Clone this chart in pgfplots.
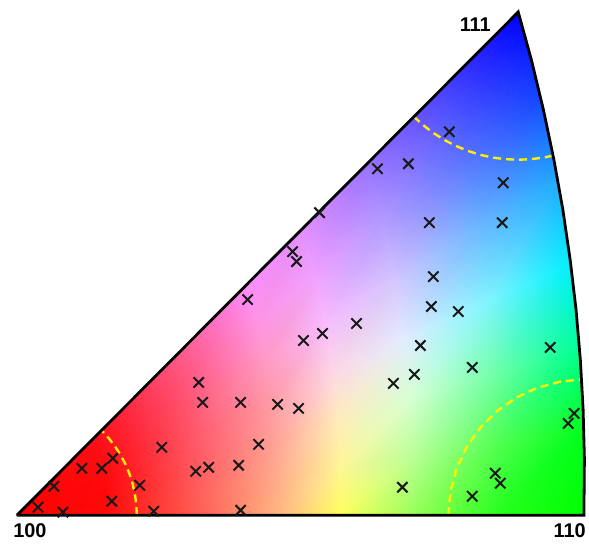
\documentclass[border=0pt]{standalone}
\usepackage{pgfplots}
\pgfplotsset{compat=1.18}
\usepackage{fontspec}
\setmainfont{Liberation Sans}
\definecolor{dashy}{RGB}{255,238,0}
\definecolor{crossc}{RGB}{25,25,25}
\begin{document}
\begin{tikzpicture}
\begin{axis}[
  width=589bp, height=544bp, scale only axis,
  xmin=0, xmax=589, ymin=0, ymax=544, y dir=reverse,
  hide axis, clip=false,
]
\path (rel axis cs:0,0) rectangle (rel axis cs:1,1);
% colour key (patch mesh, vertex colours)
\addplot[patch, shader=interp, mesh/color input=explicit,
  table/row sep=\\,
  patch table={
0 1 2\\ 0 2 3\\ 0 3 4\\ 0 4 5\\ 0 5 6\\ 0 6 7\\
1 8 9\\ 1 9 2\\ 2 9 10\\ 2 10 3\\ 3 10 11\\ 3 11 4\\ 4 11 12\\ 4 12 5\\ 5 12 13\\ 5 13 6\\ 6 13 14\\ 6 14 7\\
8 15 16\\ 8 16 9\\ 9 16 17\\ 9 17 10\\ 10 17 18\\ 10 18 11\\ 11 18 19\\ 11 19 12\\ 12 19 20\\ 12 20 13\\ 13 20 21\\ 13 21 14\\
15 22 23\\ 15 23 16\\ 16 23 24\\ 16 24 17\\ 17 24 25\\ 17 25 18\\ 18 25 26\\ 18 26 19\\ 19 26 27\\ 19 27 20\\ 20 27 28\\ 20 28 21\\
22 29 30\\ 22 30 23\\ 23 30 31\\ 23 31 24\\ 24 31 32\\ 24 32 25\\ 25 32 33\\ 25 33 26\\ 26 33 34\\ 26 34 27\\ 27 34 35\\ 27 35 28\\
29 36 37\\ 29 37 30\\ 30 37 38\\ 30 38 31\\ 31 38 39\\ 31 39 32\\ 32 39 40\\ 32 40 33\\ 33 40 41\\ 33 41 34\\ 34 41 42\\ 34 42 35\\
36 43 44\\ 36 44 37\\ 37 44 45\\ 37 45 38\\ 38 45 46\\ 38 46 39\\ 39 46 47\\ 39 47 40\\ 40 47 48\\ 40 48 41\\ 41 48 49\\ 41 49 42\\
  },
] table[x=x, y=y, meta=c] {
x y c\\
17 516 rgb255=255,0,0\\
107.8 516 rgb255=255,12,8\\
107.8 502.6 rgb255=255,10,10\\
107.1 489.1 rgb255=255,10,12\\
105.7 475.7 rgb255=255,10,14\\
103.6 462.2 rgb255=255,12,18\\
100.8 448.8 rgb255=255,14,22\\
97.3 435.4 rgb255=255,16,26\\
198.7 516 rgb255=255,95,82\\
198.6 489.1 rgb255=255,94,92\\
197.2 462.2 rgb255=255,90,98\\
194.4 435.4 rgb255=255,88,105\\
190.2 408.5 rgb255=255,86,112\\
184.6 381.6 rgb255=255,85,122\\
177.6 354.7 rgb255=255,88,135\\
278.2 516 rgb255=255,182,128\\
278.1 477.4 rgb255=255,172,140\\
276.0 438.7 rgb255=255,162,152\\
272.0 400.1 rgb255=255,155,168\\
266.0 361.4 rgb255=255,155,196\\
258.0 322.8 rgb255=255,148,228\\
247.9 284.2 rgb255=255,140,252\\
340.6 516 rgb255=255,255,95\\
340.5 468.1 rgb255=255,246,150\\
338.0 420.2 rgb255=255,236,186\\
333.0 372.4 rgb255=253,215,230\\
325.5 324.5 rgb255=248,188,254\\
315.6 276.6 rgb255=240,162,255\\
303.1 228.7 rgb255=225,142,255\\
414.5 516 rgb255=150,255,88\\
414.3 457.2 rgb255=185,255,150\\
411.2 398.4 rgb255=215,255,212\\
405.0 339.6 rgb255=226,236,255\\
395.9 280.8 rgb255=212,198,255\\
383.7 222 rgb255=178,155,255\\
368.4 163.2 rgb255=150,112,255\\
499.6 516 rgb255=40,255,30\\
499.4 444.6 rgb255=80,255,80\\
495.6 373.2 rgb255=112,255,170\\
488.2 301.8 rgb255=128,245,255\\
477.1 230.4 rgb255=110,185,255\\
462.2 159 rgb255=90,115,255\\
443.7 87.6 rgb255=72,64,255\\
584.8 516 rgb255=0,255,0\\
584.55 432 rgb255=0,255,30\\
580.1 348 rgb255=0,255,150\\
571.35 264 rgb255=0,240,255\\
558.3 180 rgb255=30,170,255\\
540.8 96 rgb255=20,70,255\\
519 12 rgb255=0,0,255\\
};
% yellow dashed circles
\addplot[dashy, line width=2.4bp, dash pattern=on 8bp off 5bp, no markers] coordinates {
(137,516) (136.5,505.5) (135.2,495.2) (132.9,484.9) (129.8,475.0) (125.8,465.3) (120.9,456.0) (115.3,447.2) (108.9,438.9) (101.9,431.1)};
\addplot[dashy, line width=2.4bp, dash pattern=on 8bp off 5bp, no markers] coordinates {
(449,516) (451.1,492.4) (457.2,469.5) (467.2,448.0) (480.8,428.6) (497.6,411.8) (517,398.2) (538.5,388.2) (561.4,382.1) (582.5,380.1)};
\addplot[dashy, line width=2.4bp, dash pattern=on 8bp off 5bp, no markers] coordinates {
(414.3,116.7) (423.9,125.4) (434.1,133.2) (445,140.2) (456.5,146.1) (468.4,151.1) (480.7,155) (493.3,157.8) (506.1,159.4) (519,160) (531.9,159.4) (544.7,157.8) (554.8,155.6)};
% outline
\addplot[black, line width=2.8bp, no markers] coordinates {
(17,516) (584.8,516) (585.3,460) (584.0,410) (581.2,360) (576.9,310) (571.0,260) (563.7,210) (554.75,160) (544.25,110) (532.2,60) (519,12) (17,516)};
% measured orientations
\addplot[only marks, mark=x, mark size=7.3bp, mark options={line width=2bp}, crossc] coordinates {
(450,132) (378,169) (409,164) (504,183) (503,223) (320,213) (430,223) (293,252) (297,262) (434,277)
(248,300) (432,307) (459,312) (357,324) (323,334) (304,341) (421,346) (551,348) (473,368) (415,375)
(394,384) (199,383) (203,403) (241,403) (278,405) (299,409) (575,414) (569,424) (259,445) (162,448)
(113,459) (82,469) (102,469) (209,468) (196,472) (239,466) (496,474) (501,484) (54,487) (140,486)
(403,488) (473,497) (112,502) (38,508) (63,513) (154,512) (241,511)};
\node[font=\fontsize{20}{22}\selectfont\bfseries] at (axis cs:30,531) {100};
\node[font=\fontsize{20}{22}\selectfont\bfseries] at (axis cs:570.5,531) {110};
\node[font=\fontsize{20}{22}\selectfont\bfseries] at (axis cs:476,24.5) {111};
\end{axis}
\end{tikzpicture}
\end{document}
